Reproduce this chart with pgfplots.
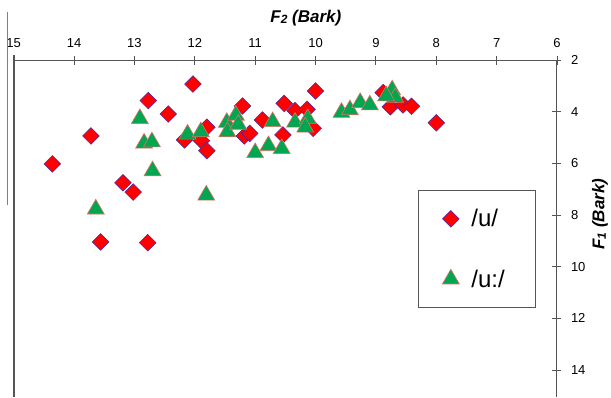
\documentclass[border=0pt]{standalone}
\usepackage{fontspec}
\setmainfont{Liberation Sans}
\usepackage{pgfplots}
\pgfplotsset{compat=1.18}
\definecolor{ured}{RGB}{255,0,0}
\definecolor{uedge}{RGB}{70,40,170}
\definecolor{ugreen}{RGB}{0,166,80}
\definecolor{gedge}{RGB}{228,110,100}
\definecolor{axgray}{RGB}{85,85,85}

\pgfplotstableread{
x y
12.03 2.93
12.77 3.57
12.44 4.09
13.72 4.94
14.36 6.02
13.19 6.75
13.02 7.11
13.56 9.04
12.78 9.07
11.80 4.60
12.17 5.09
11.89 5.12
11.80 5.51
11.21 3.78
11.18 4.94
11.09 4.84
10.88 4.32
10.52 3.68
10.54 4.90
10.34 3.96
10.14 3.91
10.04 4.64
10.00 3.20
8.88 3.26
8.76 3.81
8.55 3.74
8.41 3.79
8.00 4.43
}\udata

\pgfplotstableread{
x y
12.91 4.27
12.84 5.22
12.71 5.17
12.70 6.29
13.64 7.77
11.81 7.23
12.12 4.87
11.90 4.78
11.47 4.42
11.46 4.78
11.32 4.14
11.28 4.49
11.00 5.59
10.78 5.32
10.56 5.43
10.71 4.39
10.34 4.41
10.13 4.27
10.17 4.60
9.57 4.03
9.43 3.93
9.26 3.65
9.10 3.74
8.73 3.16
8.68 3.45
8.83 3.39
}\uudata

\begin{document}
\begin{tikzpicture}[x=1pt,y=1pt]
\useasboundingbox (0,0) rectangle (611,397);
\begin{axis}[
  at={(13.7pt,0pt)}, anchor=south west,
  scale only axis, width=543.3pt, height=337pt,
  xmin=6, xmax=15, x dir=reverse,
  ymin=2, ymax=15.04, y dir=reverse,
  axis x line*=top, axis y line*=right,
  clip=false,
  xtick={6,7,...,15}, ytick={2,4,...,14},
  tick align=center, major tick length=9pt,
  tick style={axgray, line width=0.8pt},
  axis line style={axgray, line width=1pt},
  ticklabel style={font=\fontsize{13}{15}\selectfont},
  xticklabel style={yshift=4pt},
  yticklabel style={xshift=6pt},
  /pgf/number format/assume math mode=true,
  xlabel={\bfseries\itshape F\raisebox{-1.5pt}{\fontsize{12}{12}\selectfont 2} (Bark)},
  xlabel style={at={(axis cs:10.16,0.375)}, anchor=center, font=\fontsize{17}{20}\selectfont},
  ylabel={\bfseries\itshape F\raisebox{-1.5pt}{\fontsize{12}{12}\selectfont 1} (Bark)},
  ylabel style={at={(axis cs:5.288,7.96)}, anchor=center, font=\fontsize{17}{20}\selectfont},
  legend style={at={(axis cs:8.303,7.03)}, anchor=north west, draw=axgray, line width=0.8pt,
    fill=white, inner xsep=24pt, inner ysep=19pt, row sep=41pt, column sep=12pt,
    nodes={inner sep=0pt, font=\fontsize{24}{24}\selectfont}},
  legend cell align=left,
]
\addplot[only marks, mark=square*, mark size=5.9pt,
  mark options={rotate=45, fill=ured, draw=uedge, line width=0.5pt}] table {\udata};
\addlegendentry{\makebox[40pt][l]{/u/}}
\addplot[only marks, mark=triangle*, mark size=9.8pt,
  mark options={fill=ugreen, draw=gedge, line width=0.6pt}] table {\uudata};
\addlegendentry{\makebox[40pt][l]{/u:/}}
\end{axis}
\draw[line width=1.8pt, axgray] (13.7,0) -- (13.7,342);
\draw[line width=1.2pt, gray] (7.3,192) -- (7.3,385);
\end{tikzpicture}
\end{document}
